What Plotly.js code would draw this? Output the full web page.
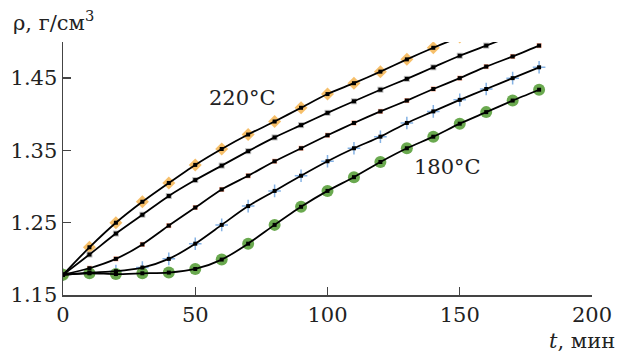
<!DOCTYPE html>
<html>
<head>
<meta charset="utf-8">
<script src="https://cdn.plot.ly/plotly-3.0.1.min.js"></script>
<style>html,body{margin:0;padding:0;background:#fff;}#chart{width:619px;height:354px;}</style>
</head>
<body>
<div id="chart"></div>
<script>
// time, min
const tMin = [0,10,20,30,40,50,60,70,80,90,100,110,120,130,140,150,160,170,180];
// density, g/cm3 (five temperatures, 220°C at top ... 180°C at bottom)
const rho220 = [1.178,1.216,1.250,1.279,1.305,1.330,1.352,1.372,1.390,1.409,1.428,1.443,1.459,1.476,1.492,1.507];
const rho210 = [1.178,1.206,1.235,1.261,1.287,1.309,1.329,1.349,1.368,1.385,1.402,1.418,1.434,1.449,1.465,1.481,1.495,1.509];
const rho200 = [1.178,1.187,1.200,1.220,1.246,1.271,1.296,1.315,1.335,1.353,1.371,1.388,1.404,1.419,1.435,1.450,1.466,1.480,1.495];
const rho190 = [1.178,1.181,1.183,1.188,1.200,1.221,1.247,1.273,1.294,1.315,1.335,1.353,1.369,1.388,1.404,1.420,1.435,1.450,1.465];
const rho180 = [1.178,1.180,1.179,1.180,1.181,1.186,1.199,1.221,1.247,1.272,1.294,1.313,1.334,1.353,1.369,1.387,1.403,1.419,1.434];
const labelHot = "220°C";
const labelCold = "180°C";

const series = [
  {y: rho220, sym: 'diamond', col: 'rgba(245,180,80,0.85)', size: 10},
  {y: rho210, sym: 'square', col: 'rgba(170,170,170,0.8)', size: 6},
  {y: rho200, sym: 'square', col: 'rgba(240,150,120,0.85)', size: 5},
  {y: rho190, sym: 'cross-thin', col: 'rgba(120,170,225,0.9)', size: 9},
  {y: rho180, sym: 'circle', col: 'rgba(90,160,60,0.9)', size: 12}
];

const traces = [];
series.forEach(s => {
  const x = tMin.slice(0, s.y.length);
  traces.push({x: x, y: s.y, mode: 'markers', type: 'scatter', hoverinfo: 'skip',
    marker: {symbol: s.sym, color: s.col, size: s.size, line: {color: s.col, width: s.sym === 'cross-thin' ? 1.5 : 0}}});
});
series.forEach(s => {
  const x = tMin.slice(0, s.y.length);
  traces.push({x: x, y: s.y, mode: 'lines+markers', type: 'scatter',
    line: {color: '#000', width: 1.8, shape: 'spline', smoothing: 0.7},
    marker: {symbol: 'square', color: '#000', size: 4}});
});

const font = {family: 'DejaVu Serif', color: '#222', size: 21};

const layout = {
  width: 619, height: 354,
  margin: {l: 63, r: 27, t: 42, b: 59},
  paper_bgcolor: '#fff', plot_bgcolor: '#fff',
  showlegend: false,
  font: font,
  xaxis: {range: [0, 200], tickvals: [0,50,100,150,200], ticks: 'inside', ticklen: 8, tickwidth: 1.3,
    tickcolor: '#444', showline: true, linecolor: '#444', linewidth: 1.5, showgrid: false, zeroline: false,
    tickfont: font, fixedrange: true},
  yaxis: {range: [1.15, 1.5], tickvals: [1.15,1.25,1.35,1.45], ticktext: ['1.15','1.25','1.35','1.45'],
    ticks: 'inside', ticklen: 8, tickwidth: 1.3,
    tickcolor: '#444', showline: true, linecolor: '#444', linewidth: 1.5, showgrid: false, zeroline: false,
    tickfont: font, fixedrange: true},
  annotations: [
    {x: 67.7, y: 1.422, xref: 'x', yref: 'y', text: labelHot, showarrow: false, font: font, xanchor: 'center', yanchor: 'middle'},
    {x: 145.4, y: 1.327, xref: 'x', yref: 'y', text: labelCold, showarrow: false, font: font, xanchor: 'center', yanchor: 'middle'},
    {x: -0.098, y: 1.02, xref: 'paper', yref: 'paper', text: 'ρ, г/см<sup>3</sup>', showarrow: false, font: font, xanchor: 'left', yanchor: 'bottom'},
    {x: 1.047, y: -0.183, xref: 'paper', yref: 'paper', text: '<i>t</i>, мин', showarrow: false, font: font, xanchor: 'right', yanchor: 'middle'}
  ]
};

Plotly.newPlot('chart', traces, layout, {displayModeBar: false, staticPlot: true});
</script>
</body>
</html>
